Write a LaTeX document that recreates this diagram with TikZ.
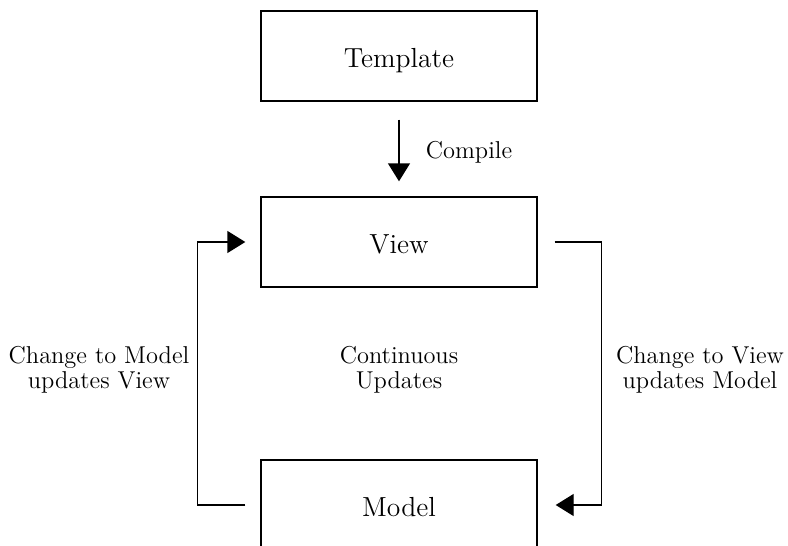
\documentclass[tikz,border=0pt]{standalone}
\usepackage{tikz}
\usetikzlibrary{shapes}
\usetikzlibrary{arrows.meta}
\usetikzlibrary{positioning}
\usetikzlibrary{calc}
\tikzstyle{bloc}=[rectangle,draw,line width=0.7pt,fill=white,
        minimum width=138pt,minimum height=45pt,
        text height=11.5pt,text depth=0pt,
        font=\fontsize{13.8}{15}\selectfont]
\tikzstyle{legende}=[align=center,inner sep=0pt,
        font=\fontsize{12.2}{12.5}\selectfont]
\tikzstyle{suite}=[-{Triangle[width=11pt,length=9pt]},line width=0.7pt]

\begin{document}
\begin{tikzpicture}[x=0.5pt,y=-0.5pt]
\clip (0,0) rectangle (788,546);
\node[bloc] (template) at (399,56) {Template};
\node[bloc] (view) at (399,242) {View};
\node[bloc] (model) at (399,505) {Model};
\node[legende] (compile) at (469,152) {Compile};
\node[legende] (gauche) at (99,370) {Change to Model\\updates View};
\node[legende] (milieu) at (399,370) {Continuous\\Updates};
\node[legende] (droite) at (700,370) {Change to View\\updates Model};
%Drawing Edges
\draw[suite,shorten <=9pt,shorten >=7.5pt] (template) -- (view);
\draw[suite] ([xshift=-7.5pt]model.west) -- ++(-48,0) |- ([xshift=-7.5pt]view.west);
\draw[suite] ([xshift=8.5pt]view.east) -- ++(47,0) |- ([xshift=9pt]model.east);
\end{tikzpicture}
\end{document}
